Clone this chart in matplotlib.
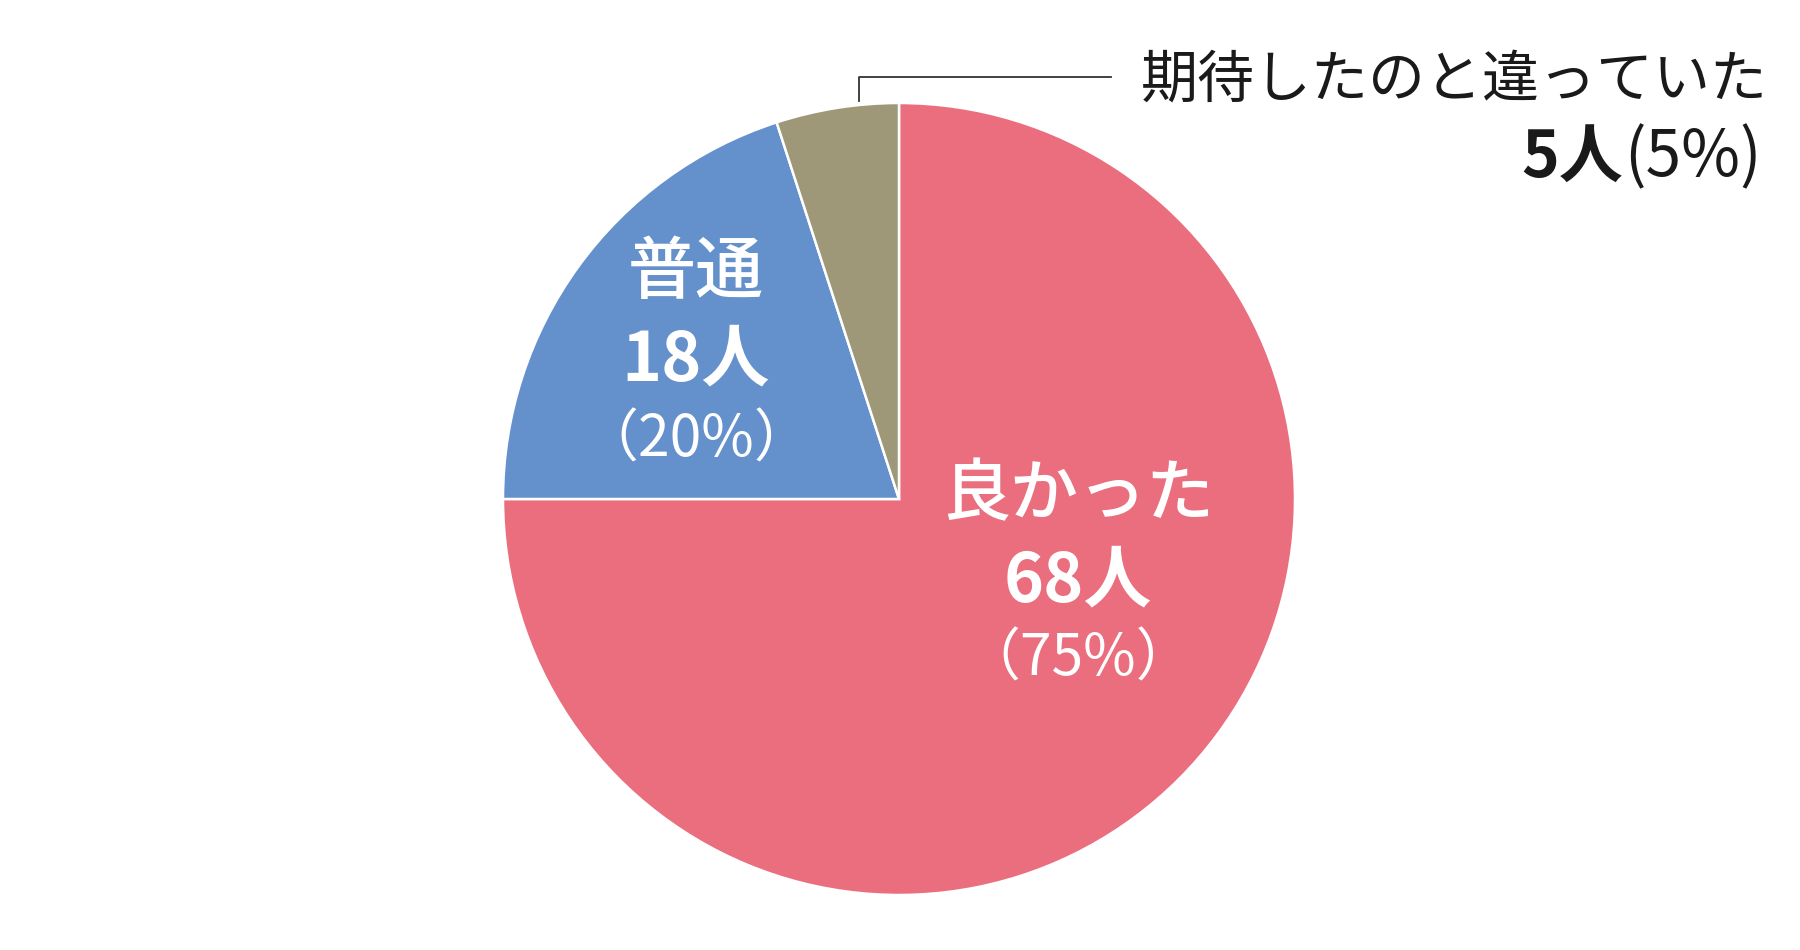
import matplotlib.pyplot as plt

plt.rcParams['font.family'] = ['Noto Sans CJK JP', 'DejaVu Sans']

labels = ['良かった', '普通', '期待したのと違っていた']
counts = [68, 18, 5]
percents = [75, 20, 5]
colors = ['#EA6E7D', '#6490CB', '#9E9878']

W, H = 1800, 950
fig = plt.figure(figsize=(18, 9.5), dpi=100)
ax = fig.add_axes([0, 0, 1, 1])

cx, cy, r = 899, H - 499, 396
ax.pie(percents, colors=colors, startangle=90, counterclock=False,
       center=(cx, cy), radius=r, frame=True,
       wedgeprops=dict(edgecolor='white', linewidth=1.8))
ax.set_xlim(0, W)
ax.set_ylim(0, H)
ax.set_aspect('equal')
ax.axis('off')

# labels inside wedges
inside = [(1078, 495, 582, 659), (696, 273, 361, 440)]
for i, (x, y1, y2, y3) in enumerate(inside):
    ax.text(x, H - y1, labels[i], color='white', fontsize=49, fontweight='medium',
            ha='center', va='center')
    ax.text(x, H - y2, f'{counts[i]}人', color='white', fontsize=49, fontweight='bold',
            ha='center', va='center')
    ax.text(x, H - y3, f'（{percents[i]}%）', color='white', fontsize=41,
            ha='center', va='center')

# small wedge: label outside with leader line
ax.plot([859, 859, 1111], [H - 101, H - 77, H - 77], color='#333333', lw=1.3)
ax.text(1768, H - 80, labels[2], color='#1a1a1a', fontsize=41,
        ha='right', va='center')
t = ax.text(1762, H - 158, f'({percents[2]}%)', color='#1a1a1a', fontsize=46,
            ha='right', va='center')
fig.canvas.draw()
bb = t.get_window_extent()
ax.text(bb.x0 - 2, H - 158, f'{counts[2]}人', color='#1a1a1a', fontsize=46,
        fontweight='bold', ha='right', va='center')

fig.savefig('out.png', dpi=100, facecolor='white')
